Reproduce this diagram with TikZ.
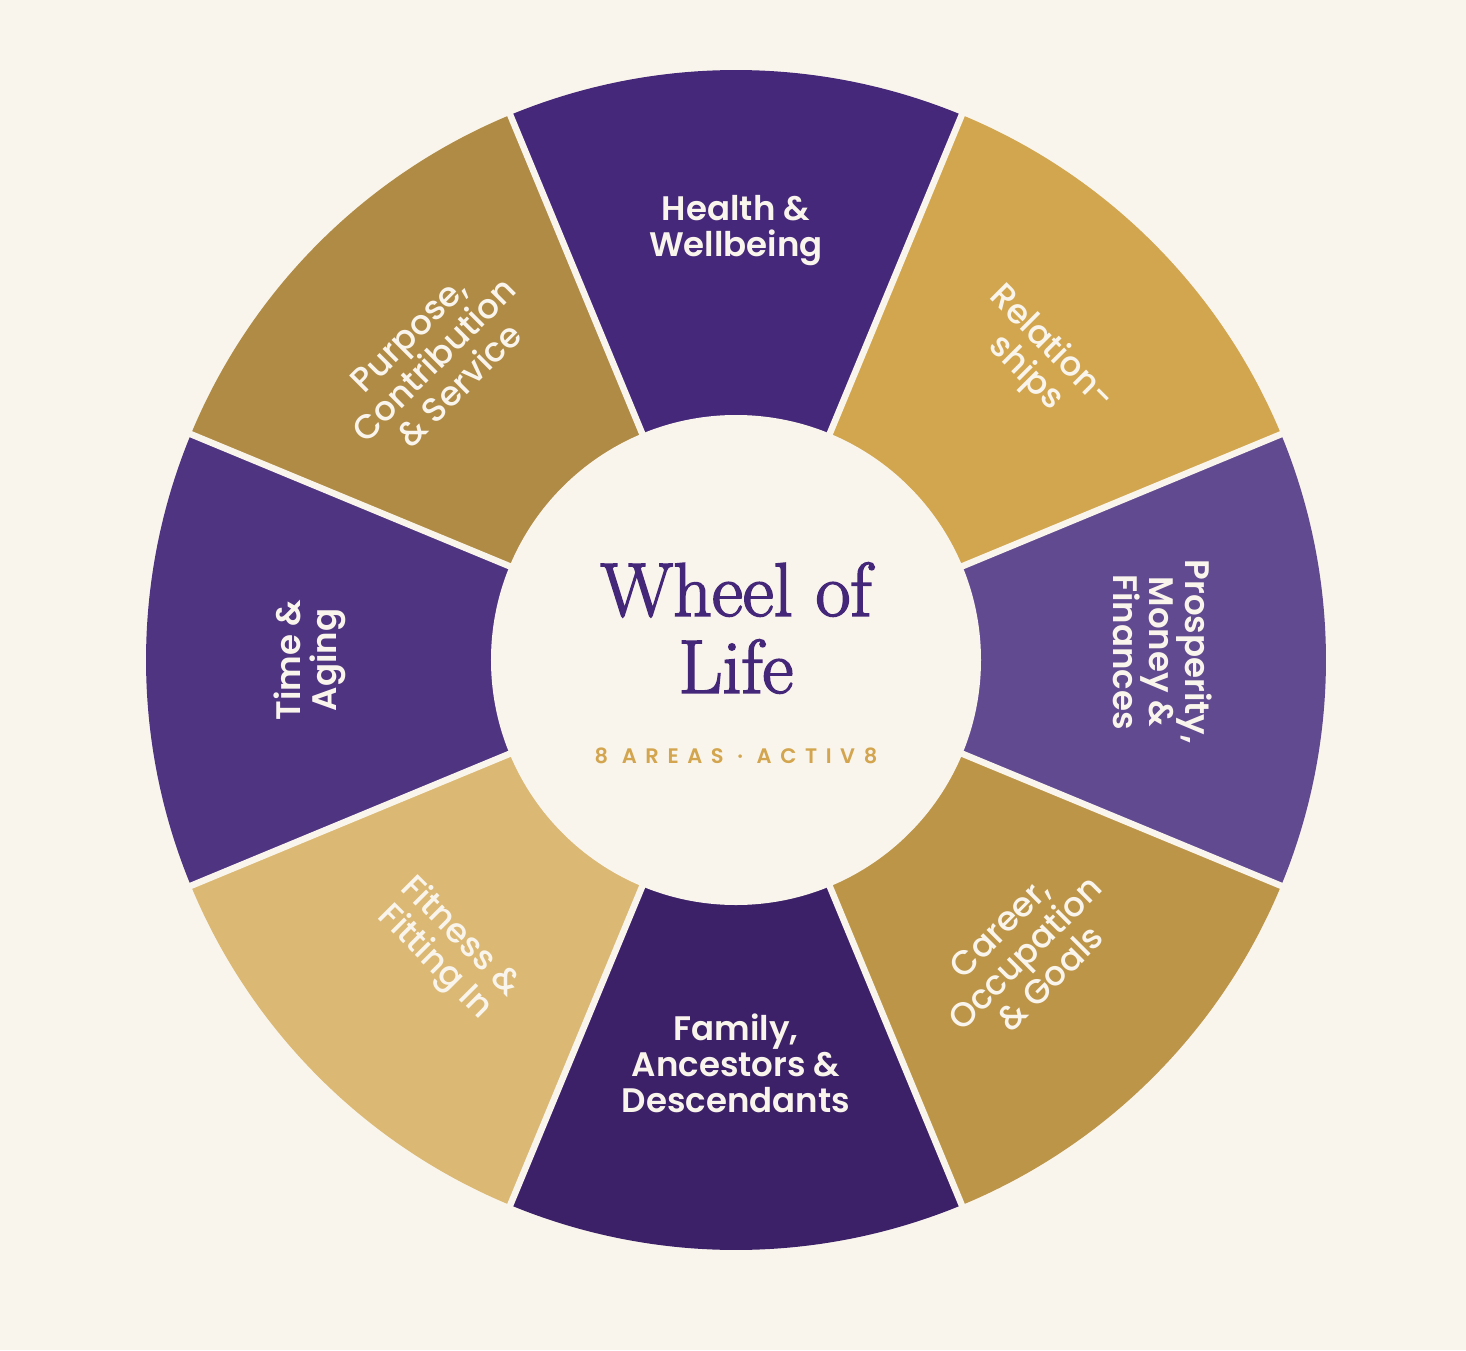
\documentclass[tikz,border=0pt]{standalone}
\usepackage{fontspec}
\setmainfont{Poppins}
\newfontfamily\lblB{Poppins SemiBold}
\newfontfamily\lblM{Poppins Medium}
\newfontfamily\titlefont{Latin Modern Roman}[FakeBold=2.2]
\newfontfamily\subfont{Poppins SemiBold}[LetterSpace=41]
\definecolor{bg}{HTML}{FAF5EC}
\definecolor{cHealth}{HTML}{45287A}
\definecolor{cRel}{HTML}{D2A64F}
\definecolor{cPros}{HTML}{614A90}
\definecolor{cCar}{HTML}{BC9549}
\definecolor{cFam}{HTML}{3C2169}
\definecolor{cFit}{HTML}{DBB873}
\definecolor{cTime}{HTML}{4F3481}
\definecolor{cPur}{HTML}{B08B45}
\definecolor{titlec}{HTML}{45277A}
\definecolor{subc}{HTML}{D2A54E}
\tikzset{
  lblbold/.style={text=bg, align=center, font=\lblB\fontsize{34}{36}\selectfont, inner sep=0pt},
  lblmed/.style={text=bg, align=center, font=\lblM\fontsize{34}{36}\selectfont, inner sep=0pt},
  gapline/.style={draw=bg, line width=6.5pt}
}
\begin{document}
\begin{tikzpicture}[x=1pt,y=1pt]
\useasboundingbox[fill=bg] (-736,-690) rectangle (730,660);
% sectors
\foreach \a/\c in {90/cHealth,45/cRel,0/cPros,-45/cCar,-90/cFam,-135/cFit,180/cTime,135/cPur}{
  \fill[\c] (0,0) -- (\a-22.5:590) arc[start angle=\a-22.5, end angle=\a+22.5, radius=590] -- cycle;
}
% gaps
\foreach \g in {22.5,67.5,112.5,157.5,202.5,247.5,292.5,337.5}{
  \draw[gapline] (\g:200) -- (\g:600);
}
\fill[bg] (0,0) circle[radius=245];
% labels
\node[lblbold] (health) at (0,429) {Health \&\\Wellbeing};
\node[lblmed, rotate=-45] (rel) at (302,299) {Relation-\\ships};
\node[lblbold, rotate=-90] (pros) at (427,8) {Prosperity,\\Money \&\\Finances};
\node[lblmed, rotate=45] (car) at (289,-293) {Career,\\Occupation\\\& Goals};
\node[lblbold] (fam) at (0,-403) {Family,\\Ancestors \&\\Descendants};
\node[lblmed, rotate=-45] (fit) at (-289,-290) {Fitness \&\\Fitting In};
\node[lblbold, rotate=90] (time) at (-426,0) {Time \&\\Aging};
\node[lblmed, rotate=45] (pur) at (-302,300) {Purpose,\\Contribution\\\& Service};
% title
\node[text=titlec, align=center, font=\titlefont\fontsize{76}{77}\selectfont, inner sep=0pt] (title) at (0,32) {Wheel of\\Life};
\node[text=subc, font=\subfont\fontsize{21}{24}\selectfont, inner sep=0pt] (sub) at (0,-96) {8 AREAS · ACTIV8};
\end{tikzpicture}
\end{document}
